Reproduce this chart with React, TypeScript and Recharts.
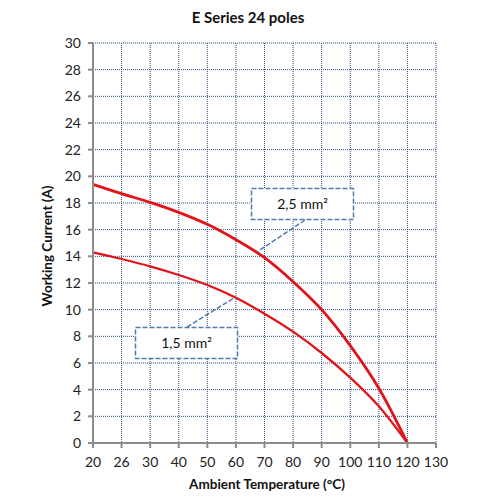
import React from 'react';
import { LineChart, Line, XAxis, YAxis, CartesianGrid } from 'recharts';

const temperatures = ['20', '26', '30', '40', '50', '60', '70', '80', '90', '100', '110', '120', '130'];
const current25 = [19.4, 18.7, 18.05, 17.3, 16.4, 15.25, 13.9, 12.1, 10.0, 7.3, 4.1, 0, null];
const current15 = [14.3, 13.8, 13.25, 12.6, 11.85, 10.9, 9.7, 8.35, 6.75, 4.9, 2.75, 0, null];
const yTicks = [0, 2, 4, 6, 8, 10, 12, 14, 16, 18, 20, 22, 24, 26, 28, 30];

const data = temperatures.map((t, i) => ({ t, a: current25[i], b: current15[i] }));

const FONT = 'Lato, "Open Sans", sans-serif';

export default function App() {
  return (
    <div style={{ position: 'absolute', left: 0, top: 0, width: 500, height: 500, background: '#fff' }}>
      <LineChart
        width={500}
        height={500}
        data={data}
        margin={{ top: 43, right: 64, bottom: 27, left: 53 }}
      >
        <CartesianGrid stroke="#2e4f80" strokeDasharray="1 1" strokeWidth={1} />
        <XAxis
          dataKey="t"
          type="category"
          height={30}
          interval={0}
          stroke="#8c8c8c"
          strokeWidth={2}
          tickSize={5}
          tickMargin={9}
          tick={{ fill: '#222', fontSize: 14, fontFamily: FONT }}
        />
        <YAxis
          width={40}
          domain={[0, 30]}
          ticks={yTicks}
          interval={0}
          stroke="#8c8c8c"
          strokeWidth={2}
          tickSize={5}
          tickMargin={7}
          tick={{ fill: '#222', fontSize: 14, fontFamily: FONT }}
        />
        <Line type="monotone" dataKey="a" stroke="#e0141b" strokeWidth={2.8} dot={false} isAnimationActive={false} connectNulls={false} />
        <Line type="monotone" dataKey="b" stroke="#e0141b" strokeWidth={2.3} dot={false} isAnimationActive={false} connectNulls={false} />
      </LineChart>
      <svg width={500} height={500} style={{ position: 'absolute', left: 0, top: 0, pointerEvents: 'none' }}>
        <text x={248} y={23} textAnchor="middle" fontFamily={FONT} fontWeight="bold" fontSize={15} fill="#111">E Series 24 poles</text>
        <text x={267} y={489} textAnchor="middle" fontFamily={FONT} fontWeight="bold" fontSize={13.5} fill="#111">Ambient Temperature (°C)</text>
        <text x={0} y={0} transform="translate(52,246) rotate(-90)" textAnchor="middle" fontFamily={FONT} fontWeight="bold" fontSize={13.5} fill="#111">Working Current (A)</text>

        <line x1={305} y1={220} x2={257} y2={252} stroke="#4f7bb0" strokeWidth={1.5} strokeDasharray="5 2" />
        <rect x={251.5} y={188.5} width={102} height={31} fill="#fff" stroke="#4f7bb0" strokeWidth={1.5} strokeDasharray="5 2" />
        <text x={302.5} y={209} textAnchor="middle" fontFamily={FONT} fontSize={14} fill="#111">2,5 mm²</text>

        <line x1={187} y1={327} x2={234} y2={298} stroke="#4f7bb0" strokeWidth={1.5} strokeDasharray="5 2" />
        <rect x={135.5} y={327.5} width={102} height={31} fill="#fff" stroke="#4f7bb0" strokeWidth={1.5} strokeDasharray="5 2" />
        <text x={186.5} y={348} textAnchor="middle" fontFamily={FONT} fontSize={14} fill="#111">1,5 mm²</text>
      </svg>
    </div>
  );
}
